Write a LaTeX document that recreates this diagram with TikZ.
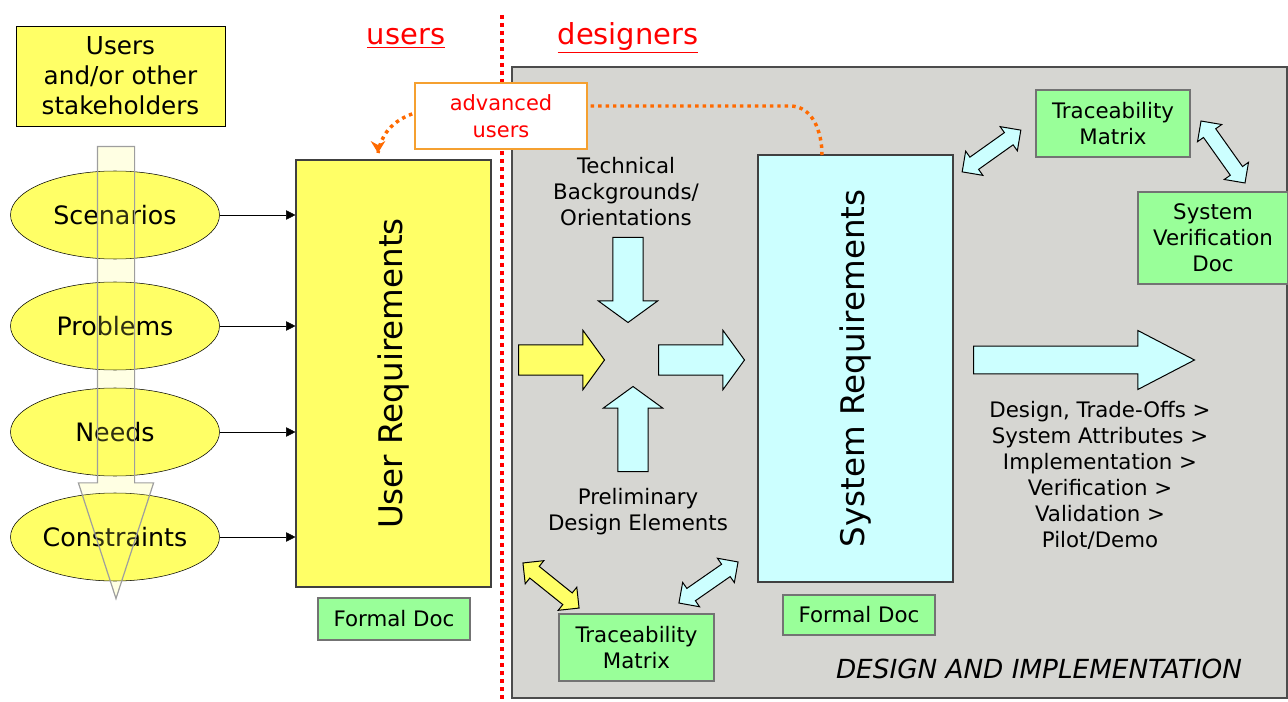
\documentclass[tikz,border=0pt]{standalone}
\usepackage{fontspec}
\setmainfont{DejaVu Sans}
\usepackage{xcolor}
\usetikzlibrary{positioning,calc,arrows.meta,shapes.geometric,shapes.arrows}

\definecolor{reqyellow}{HTML}{FFFF66}
\definecolor{reqcyan}{HTML}{CCFFFF}
\definecolor{docgreen}{HTML}{99FF99}
\definecolor{panelgray}{HTML}{D6D6D2}
\definecolor{dotorange}{HTML}{FF6A00}
\definecolor{boxorange}{HTML}{F5A030}

\begin{document}
\begin{tikzpicture}[x=0.75pt, y=-0.75pt,
    every node/.style={align=center, inner sep=0pt, font=\fontsize{16pt}{19.5pt}\selectfont},
    ybox/.style={draw=black!75, fill=reqyellow, thick},
    cbox/.style={draw=black!75, fill=reqcyan, thick},
    docbox/.style={draw=black!55, fill=docgreen, thick},
    bubble/.style={ellipse, draw, fill=reqyellow, minimum width=156.75pt, minimum height=66pt,
        font=\fontsize{19pt}{22pt}\selectfont},
    % block arrows: shaft thickness comes from inner ysep
    blockarrow/.style={draw, line width=0.75pt, text height=0pt, text depth=0pt, inner xsep=0pt,
        sloped, allow upside down},
    fat/.style={blockarrow, single arrow, anchor=tail, inner ysep=10.9pt,
        single arrow head extend=11pt, single arrow tip angle=108},
    twoway/.style={blockarrow, double arrow, inner ysep=5.25pt, double arrow head extend=5.5pt,
        minimum height=54pt},
    orangedots/.style={draw=dotorange, line width=2.6pt, dash pattern=on 2.6pt off 3pt},
    feed/.style={-{Triangle[length=7pt,width=7pt]}, thin}
]
\useasboundingbox (0,0) rectangle (1288,702);

% designers' side
\draw[fill=panelgray, draw=black!70, line width=1.2pt] (512,67) rectangle (1287,698);
\draw[red, line width=3pt, dash pattern=on 3pt off 3pt] (502,15) -- (502,702);

\node[text=red, font=\fontsize{21.7pt}{26pt}\selectfont] (users) at (406,38) {\underline{users}};
\node[text=red, font=\fontsize{21.7pt}{26pt}\selectfont] (designers) at (628,38) {\underline{designers}};

% users' side
\node[ybox, thin, draw=black, minimum width=156.75pt, minimum height=75pt,
    font=\fontsize{18.5pt}{22.5pt}\selectfont] (stake) at (120.5,76) {Users\\and/or other\\stakeholders};

\node[bubble] (scen) at (115,215) {Scenarios};
\node[bubble] (prob) at (115,326) {Problems};
\node[bubble] (need) at (115,432) {Needs};
\node[bubble] (cons) at (115,537) {Constraints};

\coordinate (flow0) at (116,146);
\coordinate (flow1) at (116,598);
\path (flow0) -- (flow1) node[pos=0, blockarrow, single arrow, anchor=tail, draw=black!38,
    line width=0.9pt, fill=reqyellow, fill opacity=.18, minimum height=339pt, inner ysep=13.5pt,
    single arrow head extend=14.25pt, single arrow tip angle=36] {};

\node[ybox, minimum width=146.25pt, minimum height=320.25pt] (ur) at (393.5,373.5) {};
\node[rotate=90, font=\fontsize{24.4pt}{28pt}\selectfont] at (ur.center) {User Requirements};
\node[docbox, minimum width=114pt, minimum height=31.5pt] (docl) at (394,619) {Formal Doc};

\foreach \b in {scen,prob,need,cons}
    \draw[feed] (\b.east) -- (\b.east -| ur.west);

% advanced users shortcut
\coordinate (urtop) at (378,153);
\coordinate (bend) at (790,106);
\node[cbox, minimum width=146.25pt, minimum height=320.25pt] (sr) at (855.5,368.5) {};
\coordinate (srtop) at (822,155);
\draw[orangedots] (501,106) -- (bend) to[out=0, in=90] (srtop);
\draw[orangedots] (501,106) to[out=180, in=80] (urtop);
\draw[dotorange, line width=1pt, -{Stealth[length=9pt, width=11pt, inset=3pt]}] ($(urtop)+(0,-1)$) -- (urtop);
\node[draw=boxorange, thick, fill=white, text=red, minimum width=129pt, minimum height=49.5pt,
    font=\fontsize{15.7pt}{20pt}\selectfont] (adv) at (501,116) {advanced\\users};

\node[rotate=90, font=\fontsize{24.4pt}{28pt}\selectfont] at (sr.center) {System Requirements};
\node[docbox, minimum width=114pt, minimum height=30pt] (docr) at (859,615) {Formal Doc};

% inputs to the system requirements
\node (tech) at (626,192) {Technical\\Backgrounds/\\Orientations};
\node (prelim) at (638,512) {Preliminary\\Design Elements};

\coordinate (yin0) at (518,360);   \coordinate (yin1) at (604,360);
\coordinate (cout0) at (658,360);  \coordinate (cout1) at (744,360);
\coordinate (down0) at (628,237);  \coordinate (down1) at (628,322);
\coordinate (up0) at (633,472);    \coordinate (up1) at (633,387);
\path (yin0) -- (yin1) node[pos=0, fat, fill=reqyellow, minimum height=64.5pt] {};
\path (cout0) -- (cout1) node[pos=0, fat, fill=reqcyan, minimum height=64.5pt] {};
\path (down0) -- (down1) node[pos=0, fat, fill=reqcyan, minimum height=63.75pt] {};
\path (up0) -- (up1) node[pos=0, fat, fill=reqcyan, minimum height=63.75pt] {};

% onwards
\coordinate (out0) at (973,360);
\coordinate (out1) at (1194,360);
\path (out0) -- (out1) node[pos=0, fat, fill=reqcyan, minimum height=165.75pt, inner ysep=10.1pt,
    single arrow tip angle=55, single arrow head extend=11.6pt] {};
\node (steps) at (1100,475) {Design, Trade-Offs >\\System Attributes >\\Implementation >\\Verification >\\Validation >\\Pilot/Demo};

% traceability
\node[docbox, minimum width=115.5pt, minimum height=50.25pt] (tmtop) at (1113,123.5) {Traceability\\Matrix};
\node[docbox, minimum width=112.5pt, minimum height=69pt] (verif) at (1213,238) {System\\Verification\\Doc};
\node[docbox, minimum width=116.25pt, minimum height=50.25pt] (tmbot) at (636.5,647.5) {Traceability\\Matrix};

\coordinate (t1a) at (962,172);  \coordinate (t1b) at (1021,130);
\coordinate (t2a) at (1201,121); \coordinate (t2b) at (1245,183);
\coordinate (t3a) at (523,563);  \coordinate (t3b) at (579,608);
\coordinate (t4a) at (679,603);  \coordinate (t4b) at (738,562);
\path (t1a) -- (t1b) node[midway, twoway, fill=reqcyan] {};
\path (t2a) -- (t2b) node[midway, twoway, fill=reqcyan, minimum height=57pt] {};
\path (t3a) -- (t3b) node[midway, twoway, fill=reqyellow] {};
\path (t4a) -- (t4b) node[midway, twoway, fill=reqcyan] {};

\node[font=\fontsize{19.7pt}{22pt}\selectfont\itshape] (phase) at (1039,669) {DESIGN AND IMPLEMENTATION};
\end{tikzpicture}
\end{document}
